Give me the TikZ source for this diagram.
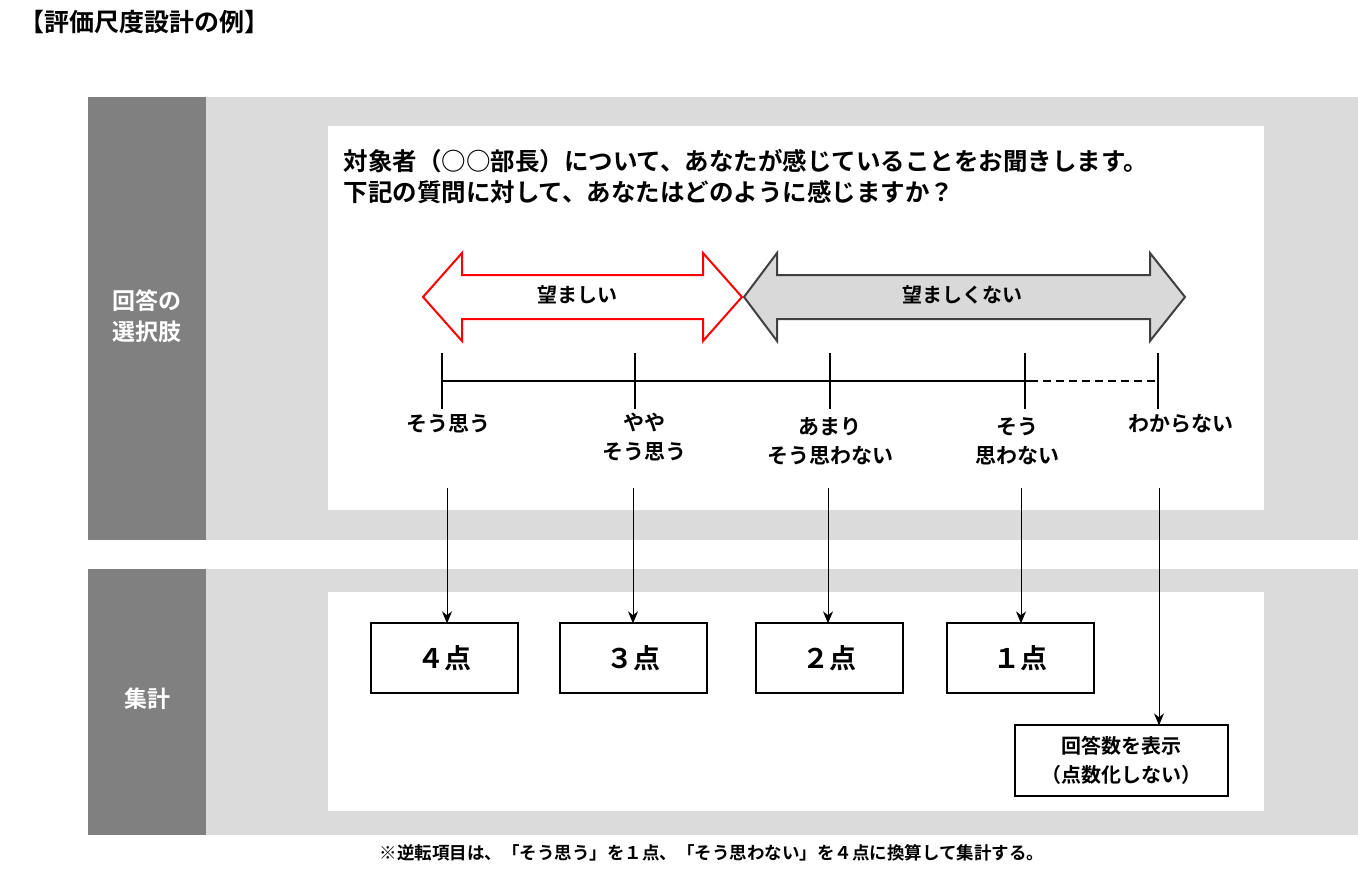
\documentclass[tikz,border=0pt]{standalone}
\usepackage{fontspec}
\usetikzlibrary{arrows.meta}
\setmainfont{Noto Sans CJK JP}[BoldFont=* Bold]
\begin{document}
\begin{tikzpicture}[x=1pt,y=-1pt,
  lbl/.style={font=\bfseries\fontsize{21}{29}\selectfont,align=center},
  side/.style={text=white,font=\bfseries\fontsize{23}{31}\selectfont,align=center},
  pt/.style={draw,line width=1.3pt,minimum width=147pt,minimum height=70pt,font=\bfseries\fontsize{27}{30}\selectfont},
  arr/.style={-{Stealth[length=12pt,width=10pt]},line width=1pt}]
\useasboundingbox (0,0) rectangle (1358,875);
\node[anchor=west,font=\bfseries\fontsize{25}{30}\selectfont] (title) at (16,22) {【評価尺度設計の例】};
% top band
\fill[gray!28] (88,97) rectangle (1358,540);
\fill[gray] (88,97) rectangle (206,540);
\node[side] (s1) at (147,316) {回答の\\選択肢};
\fill[white] (328,126) rectangle (1264,510);
\node[anchor=north west,align=left,font=\bfseries\fontsize{24.5}{31}\selectfont] (q) at (340,146) {対象者（○○部長）について、あなたが感じていることをお聞きします。\\下記の質問に対して、あなたはどのように感じますか？};
\draw[red,line width=2pt,fill=white,line join=miter] (423,297) -- (462,253) -- (462,275) -- (703,275) -- (703,253) -- (742,297) -- (703,341) -- (703,319) -- (462,319) -- (462,341) -- cycle;
\node[font=\bfseries\fontsize{20}{24}\selectfont] (g) at (577,295) {望ましい};
\draw[black!75,line width=2pt,fill=gray!30] (744,297) -- (777,253) -- (777,275) -- (1150,275) -- (1150,253) -- (1185,297) -- (1150,341) -- (1150,319) -- (777,319) -- (777,341) -- cycle;
\node[font=\bfseries\fontsize{20}{24}\selectfont] (b) at (962,295) {望ましくない};
\coordinate (l0) at (442,381); \coordinate (l1) at (1030,381); \coordinate (l2) at (1155,381);
\draw[line width=1.3pt] (l0) -- (l1);
\draw[line width=1.3pt,dash pattern=on 8pt off 5pt] (l1) -- (l2);
\foreach \x in {442,635,830,1025,1158} \draw[line width=1.3pt] (\x,353) -- (\x,409);
\node[lbl] (c1) at (448,424) {そう思う};
\node[lbl] (c2) at (644,437) {やや\\そう思う};
\node[lbl] (c3) at (830,441) {あまり\\そう思わない};
\node[lbl] (c4) at (1017,441) {そう\\思わない};
\node[lbl] (c5) at (1181,424) {わからない};
% bottom band
\fill[gray!28] (88,569) rectangle (1358,835);
\fill[gray] (88,569) rectangle (206,835);
\node[side] (s2) at (147,699) {集計};
\fill[white] (328,592) rectangle (1264,811);
\node[pt] (p4) at (444.5,658) {４点};
\node[pt] (p3) at (633.5,658) {３点};
\node[pt] (p2) at (829.5,658) {２点};
\node[pt] (p1) at (1020.5,658) {１点};
\node[draw,line width=1.3pt,minimum width=213pt,minimum height=71pt,align=center,font=\bfseries\fontsize{20}{29}\selectfont] (na) at (1121.5,760.5) {回答数を表示\\（点数化しない）};
\coordinate (a4) at (447,488); \coordinate (a3) at (633,488); \coordinate (a2) at (828,488); \coordinate (a1) at (1021,488); \coordinate (a5) at (1159,488);
\draw[arr] (a4) -- ([yshift=-1pt]p4.north -| a4);
\draw[arr] (a3) -- ([yshift=-1pt]p3.north -| a3);
\draw[arr] (a2) -- ([yshift=-1pt]p2.north -| a2);
\draw[arr] (a1) -- ([yshift=-1pt]p1.north -| a1);
\draw[arr] (a5) -- ([yshift=-1pt]na.north -| a5);
\node[font=\bfseries\fontsize{17.5}{20}\selectfont] (note) at (712,853) {※逆転項目は、「そう思う」を１点、「そう思わない」を４点に換算して集計する。};
\end{tikzpicture}
\end{document}
